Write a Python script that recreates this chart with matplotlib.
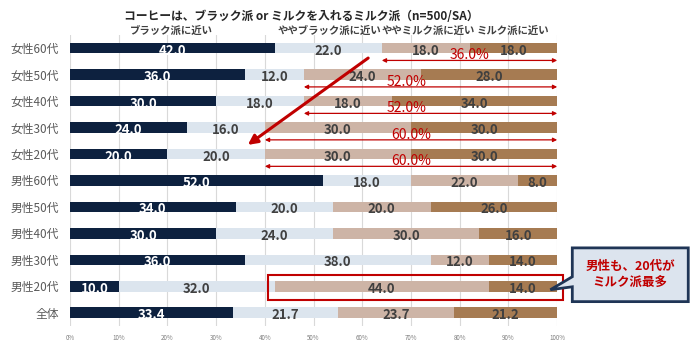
import numpy as np
import matplotlib as mpl
mpl.use('Agg')
from matplotlib import pyplot as plt
from matplotlib.patches import Polygon, Rectangle

plt.rcParams['font.family'] = ['Noto Sans CJK JP', 'DejaVu Sans']

title = 'コーヒーは、ブラック派 or ミルクを入れるミルク派（n=500/SA）'
categories = ['女性60代', '女性50代', '女性40代', '女性30代', '女性20代',
              '男性60代', '男性50代', '男性40代', '男性30代', '男性20代', '全体']
series_names = ['ブラック派に近い', 'ややブラック派に近い', 'ややミルク派に近い', 'ミルク派に近い']
black = [42.0, 36.0, 30.0, 24.0, 20.0, 52.0, 34.0, 30.0, 36.0, 10.0, 33.4]
semi_black = [22.0, 12.0, 18.0, 16.0, 20.0, 18.0, 20.0, 24.0, 38.0, 32.0, 21.7]
semi_milk = [18.0, 24.0, 18.0, 30.0, 30.0, 22.0, 20.0, 30.0, 12.0, 44.0, 23.7]
milk = [18.0, 28.0, 34.0, 30.0, 30.0, 8.0, 26.0, 16.0, 14.0, 14.0, 21.2]
milk_share = ['36.0%', '52.0%', '52.0%', '60.0%', '60.0%']  # 女性 rows
callout = '男性も、20代が\nミルク派最多'

colors = ['#0D213F', '#DCE5EE', '#CDB4A6', '#A67B52']
text_colors = ['white', '#404040', '#404040', '#404040']
red = '#C00000'

fig = plt.figure(figsize=(7, 3.43), dpi=100)
ax = fig.add_axes([0.1, 0.0496, 0.696, 0.8491])

y = np.arange(len(categories))
data = [black, semi_black, semi_milk, milk]
left = np.zeros(len(categories))
for vals, c, tc in zip(data, colors, text_colors):
    vals = np.array(vals)
    ax.barh(y, vals, left=left, height=0.4, color=c, zorder=2)
    for yi, l, v in zip(y, left, vals):
        ax.text(l + v / 2, yi + 0.1, '%.1f' % v, ha='center', va='center',
                color=tc, fontsize=9.5, fontweight='bold', zorder=4)
    left = left + vals

ax.set_xlim(0, 100)
ax.set_ylim(len(categories) - 0.5, -0.5)
ax.set_xticks(np.arange(0, 101, 10))
ax.set_xticklabels(['%d%%' % v for v in range(0, 101, 10)], fontsize=4.5, color='#7F7F7F')
ax.set_yticks(y)
ax.set_yticklabels(categories, fontsize=8.5, color='#595959')
ax.tick_params(length=0, pad=8)
ax.tick_params(axis='x', pad=6)
ax.grid(axis='x', color='#D9D9D9', lw=0.8, zorder=0)
for s in ax.spines.values():
    s.set_visible(False)

# legend labels above bars
for name, xc in zip(series_names, [20.8, 53.2, 73.5, 90.8]):
    ax.text(xc, -0.47, name, ha='center', va='bottom', fontsize=7.5,
            color='#404040', fontweight='bold')

fig.text(0.43, 0.952, title, ha='center', va='center', fontsize=8.5,
         fontweight='bold', color='#262626')

# milk share arrows for 女性 rows
label_x = [82, 69, 69, 70, 70]
for i, lab in enumerate(milk_share):
    start = black[i] + semi_black[i]
    ax.annotate('', xy=(100, i + 0.47), xytext=(start, i + 0.47),
                arrowprops=dict(arrowstyle='<|-|>', color=red, lw=0.9,
                                mutation_scale=6, shrinkA=0, shrinkB=0),
                zorder=5, annotation_clip=False)
    ax.text(label_x[i], i + 0.27, lab, ha='center', va='center', color=red,
            fontsize=10, zorder=6)

# big arrow
ax.annotate('', xy=(36.5, 3.66), xytext=(61.2, 0.38),
            arrowprops=dict(arrowstyle='-|>', color=red, lw=2.2,
                            mutation_scale=14, shrinkA=0, shrinkB=0),
            zorder=7)

# highlight box for 男性20代
ax.add_patch(Rectangle((40.7, 8.57), 60.5, 0.94, fill=False, ec=red, lw=1.5,
                       clip_on=False, zorder=6))

# callout
pts = [(103.1, 7.55), (126.9, 7.55), (126.9, 9.58), (103.1, 9.58),
       (103.1, 9.02), (98.6, 9.13), (103.1, 8.64)]
ax.add_patch(Polygon(pts, closed=True, fc='#DCE4EE', ec='#1F3556', lw=2,
                     clip_on=False, zorder=6))
ax.text(115, 8.57, callout, ha='center', va='center', color=red, fontsize=9,
        fontweight='bold', linespacing=1.4, zorder=7)

fig.savefig('out.png', dpi=100)
